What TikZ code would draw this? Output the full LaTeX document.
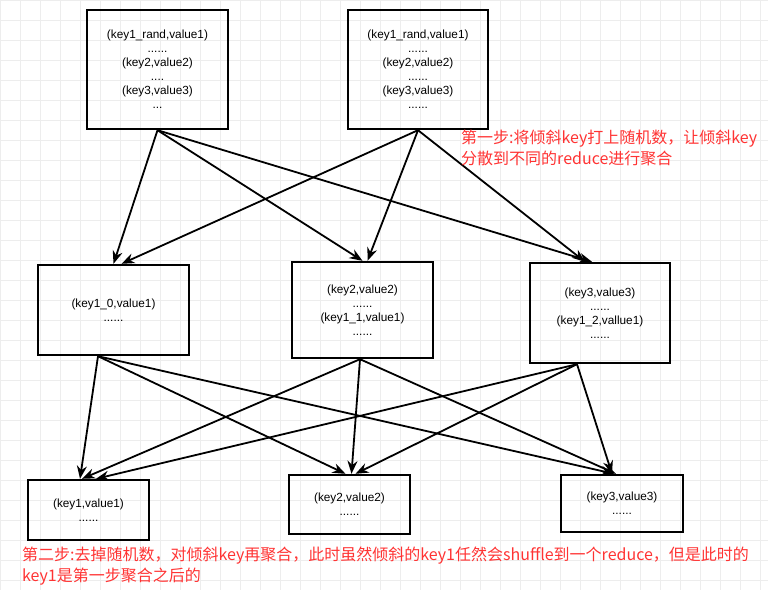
\documentclass[tikz,border=0pt]{standalone}
\usepackage{fontspec}
\setmainfont{Liberation Sans}
\newfontfamily\cjk{Noto Sans CJK SC}
\usetikzlibrary{arrows.meta}
\definecolor{notered}{HTML}{FF3333}
\definecolor{gridgray}{HTML}{EDEDED}

\begin{document}
\begin{tikzpicture}[x=1pt,y=-1pt,font=\fontsize{11.8}{14}\selectfont,
  box/.style={draw,line width=2.4pt,align=center,inner sep=0pt},
  flow/.style={line width=1.8pt,-{Stealth[length=13pt,width=10pt]}},
  note/.style={text=notered,font=\cjk\fontsize{16}{21}\selectfont,align=left,anchor=north west,inner sep=0pt}]
\path[use as bounding box] (0,0) rectangle (768,590);
% background grid
\foreach \gx in {0,20,...,760} {\draw[gridgray,line width=0.6pt] (\gx,0)--(\gx,590);}
\foreach \gy in {0,20,...,580} {\draw[gridgray,line width=0.6pt] (0,\gy)--(768,\gy);}
% input boxes
\node[box,minimum width=141pt,minimum height=119pt] (srcL) at (157.5,69.5)
  {(key1\_rand,value1)\\......\\(key2,value2)\\....\\(key3,value3)\\...};
\node[box,minimum width=140pt,minimum height=119pt] (srcR) at (418,69.5)
  {(key1\_rand,value1)\\......\\(key2,value2)\\......\\(key3,value3)\\......};
% first aggregation
\node[box,minimum width=151pt,minimum height=90pt] (aggL) at (113.5,310) {(key1\_0,value1)\\......};
\node[box,minimum width=141pt,minimum height=96pt] (aggM) at (362.5,310) {(key2,value2)\\......\\(key1\_1,value1)\\......};
\node[box,minimum width=140pt,minimum height=100pt] (aggR) at (600,313) {(key3,value3)\\......\\(key1\_2,vallue1)\\......};
% second aggregation
\node[box,minimum width=121pt,minimum height=60pt] (outL) at (88.5,510) {(key1,value1)\\......};
\node[box,minimum width=121pt,minimum height=59pt] (outM) at (349.5,504.5) {(key2,value2)\\......};
\node[box,minimum width=122pt,minimum height=57pt] (outR) at (622,503.5) {(key3,value3)\\......};
% step 1 edges
\draw[flow] (srcL.south)--(aggL.north);
\draw[flow] (srcL.south)--(aggM.north);
\draw[flow] (srcL.south)--([xshift=-8pt]aggR.north);
\draw[flow] (srcR.south)--([xshift=8pt]aggL.north);
\draw[flow] (srcR.south)--([xshift=5pt]aggM.north);
\draw[flow] (srcR.south)--([xshift=-15pt]aggR.north);
% step 2 edges
\draw[flow] ([xshift=-15.5pt]aggL.south)--([xshift=-8.5pt]outL.north);
\draw[flow] ([xshift=-15.5pt]aggL.south)--([xshift=-4pt]outM.north);
\draw[flow] ([xshift=-15.5pt]aggL.south)--([xshift=-8pt]outR.north);
\draw[flow] ([xshift=-2.5pt]aggM.south)--([xshift=-6.5pt]outL.north);
\draw[flow] ([xshift=-2.5pt]aggM.south)--([xshift=2pt]outM.north);
\draw[flow] ([xshift=-2.5pt]aggM.south)--([xshift=-6pt]outR.north);
\draw[flow] ([xshift=-23pt]aggR.south)--([xshift=7.5pt]outL.north);
\draw[flow] ([xshift=-23pt]aggR.south)--([xshift=6pt]outM.north);
\draw[flow] ([xshift=-23pt]aggR.south)--([xshift=-10pt]outR.north);
% notes
\node[note] (stepone) at (461,130) {第一步:将倾斜key打上随机数，让倾斜key\\分散到不同的reduce进行聚合};
\node[note] (steptwo) at (22,547) {第二步:去掉随机数，对倾斜key再聚合，此时虽然倾斜的key1任然会shuffle到一个reduce，但是此时的\\key1是第一步聚合之后的};
\end{tikzpicture}
\end{document}
